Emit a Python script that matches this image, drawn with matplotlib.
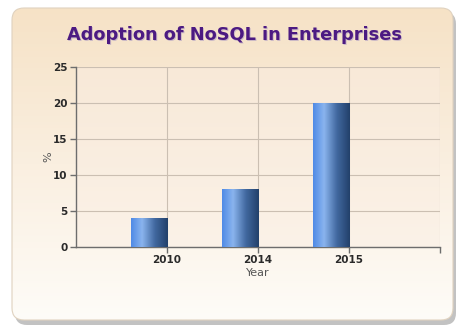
import numpy as np
import matplotlib
matplotlib.use("Agg")
import matplotlib.pyplot as plt
from matplotlib.patches import FancyBboxPatch
from matplotlib.colors import LinearSegmentedColormap
from matplotlib.transforms import ScaledTranslation

years = ["2010", "2014", "2015"]
adoption = [4, 8, 20]
y_ticks = [0, 5, 10, 15, 20, 25]

fig = plt.figure(figsize=(4.59, 3.31), dpi=100)
fig.patch.set_facecolor("white")

# background panel with shadow and vertical gradient
bg = fig.add_axes([0, 0, 1, 1])
bg.set_xlim(0, 459)
bg.set_ylim(331, 0)
bg.axis("off")
shadow = FancyBboxPatch((15, 12), 441, 313, boxstyle="round,pad=0,rounding_size=12",
                        fc="#9a9a9a", ec="none", alpha=0.6)
bg.add_patch(shadow)
panel = FancyBboxPatch((12, 8), 441, 312, boxstyle="round,pad=0,rounding_size=12",
                       fc="none", ec="#e0d2bf", lw=0.8)
bg.add_patch(panel)
panel_cmap = LinearSegmentedColormap.from_list("panel", ["#f6e2c6", "#faefe0", "#fefcf8"])
grad = np.linspace(0, 1, 256).reshape(-1, 1)
im = bg.imshow(grad, cmap=panel_cmap, extent=(12, 453, 320, 8), aspect="auto", zorder=1)
im.set_clip_path(panel)
panel.set_zorder(2)

title = "Adoption of NoSQL in Enterprises"
bg.text(234.5, 35, title, ha="center", va="center", fontsize=12.8, fontweight="bold",
        color="#cbb9c6", zorder=3,
        transform=bg.transData + ScaledTranslation(1/100, -1/100, fig.dpi_scale_trans))
bg.text(234.5, 35, title, ha="center", va="center", fontsize=12.8, fontweight="bold",
        color="#4c1a82", zorder=4)

ax = fig.add_axes([0.1656, 0.2538, 0.793, 0.5438])
ax.set_facecolor("none")

# plot area gradient
plot_cmap = LinearSegmentedColormap.from_list("plot", ["#f8e9d8", "#fbf2e8"])
ax.imshow(grad, cmap=plot_cmap, extent=(0, 4, 0, 25), aspect="auto", zorder=0)

x = np.arange(1, len(years) + 1)
bars = ax.bar(x, adoption, width=-0.4, align="edge", color="none", zorder=3)
bar_cmap = LinearSegmentedColormap.from_list(
    "bar", [(0, "#4f8ae6"), (0.3, "#8ab4ee"), (0.65, "#41689f"), (1, "#22406a")])
hgrad = np.linspace(0, 1, 256).reshape(1, -1)
for b in bars:
    bb = b.get_bbox()
    ax.imshow(hgrad, cmap=bar_cmap, extent=(bb.xmin, bb.xmax, bb.ymin, bb.ymax),
              aspect="auto", zorder=3)
ax.set_xlim(0, 4)
ax.set_ylim(0, 25)

ax.set_xticks(list(x) + [4])
ax.set_xticklabels(years + [""])
ax.set_yticks(y_ticks)
ax.grid(True, color="#cbbfb2", lw=0.8, zorder=1)
ax.set_axisbelow(True)
for s in ["top", "right"]:
    ax.spines[s].set_visible(False)
for s in ["left", "bottom"]:
    ax.spines[s].set_color("#6d6d6d")
    ax.spines[s].set_linewidth(1.0)
ax.tick_params(axis="both", length=4, width=1, color="#6d6d6d", labelsize=7.5,
               labelcolor="#2a2a2a", pad=2)
for lbl in ax.get_xticklabels() + ax.get_yticklabels():
    lbl.set_fontweight("bold")
ax.set_xlabel("Year", fontsize=8, color="#555555", labelpad=2)
ax.set_ylabel("%", fontsize=8, color="#555555", labelpad=0)

fig.savefig("out.png", dpi=100)
